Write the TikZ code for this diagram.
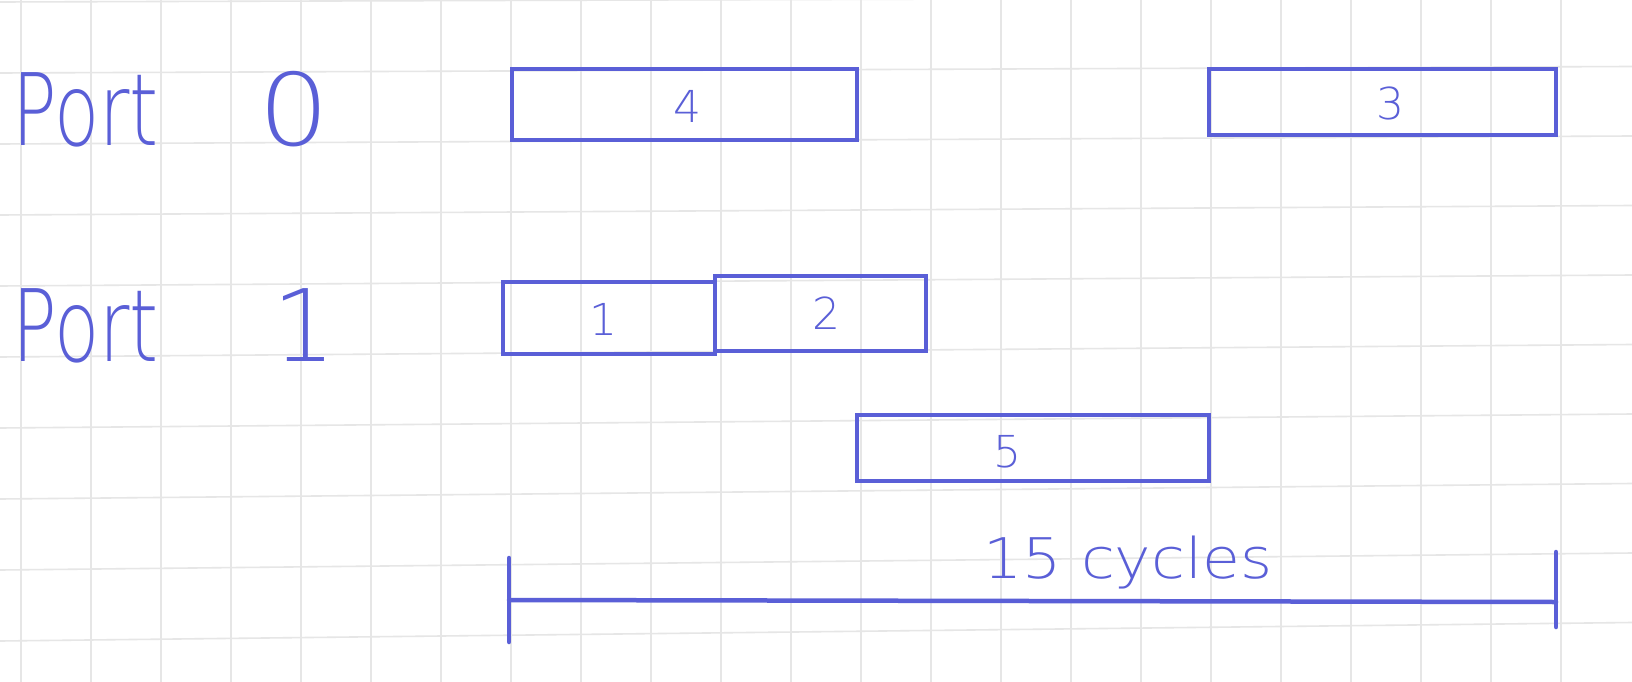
\documentclass[tikz,border=0pt]{standalone}
\usepackage{fontspec}
\usepackage{graphicx}
\newfontfamily\hand{DejaVuSans-ExtraLight.ttf}
\definecolor{ink}{RGB}{90,95,215}
\definecolor{gridc}{RGB}{230,230,230}
\tikzset{
  slot/.style 2 args={draw=ink, line width=4pt, minimum width=#1, minimum height=#2, inner sep=0pt, outer sep=0pt},
  slotlabel/.style={text=ink, font=\hand\fontsize{44}{44}\selectfont, inner sep=0pt},
  portlabel/.style={text=ink, font=\hand\fontsize{100}{100}\selectfont, inner sep=0pt, anchor=base west},
  ruler/.style={draw=ink, line width=4.5pt, line cap=round},
  gridline/.style={draw=gridc, line width=1.6pt}
}
\begin{document}
\begin{tikzpicture}[x=1pt,y=-1pt]
\useasboundingbox[fill=white] (0,0) rectangle (1632,682);
% squared paper
\foreach \k in {0,...,22} \draw[gridline] ({21+70*\k},0) -- ({21+70*\k},682);
\foreach \k in {0,...,9} \draw[gridline] (0,{2+71*\k}) -- (1632,{-3+69.5*\k});
% row labels
\node[portlabel] (p0) at (12,146) {\scalebox{0.74}[1]{Port}\hspace{100pt}\scalebox{1.12}[1]{0}};
\node[portlabel] (p1) at (12,361) {\scalebox{0.74}[1]{Port}\hspace{114pt}1};
% slots
\node[slot={345pt}{71pt}] (b4) at (684.5,104.5) {};
\node[slot={347pt}{66pt}] (b3) at (1382.5,102) {};
\node[slot={212pt}{72pt}] (b1) at (609,318) {};
\node[slot={211pt}{75pt}] (b2) at (820.5,313.5) {};
\node[slot={352pt}{66pt}] (b5) at (1033,448) {};
\node[slotlabel] (l4) at (687,106) {4};
\node[slotlabel] (l3) at (1390,103) {3};
\node[slotlabel] (l1) at (603,319) {1};
\node[slotlabel] (l2) at (826,313) {2};
\node[slotlabel] (l5) at (1007,452) {5};
% ruler
\coordinate (rl) at (509,600);
\coordinate (rr) at (1556,602);
\coordinate (rlt) at (509,558);
\coordinate (rlb) at (509,642);
\coordinate (rrt) at (1556,552);
\coordinate (rrb) at (1556,627);
\draw[ruler] (rl) -- (rr);
\draw[ruler] (rlt) -- (rlb);
\draw[ruler] (rrt) -- (rrb);
\node[text=ink, font=\hand\fontsize{56}{56}\selectfont, inner sep=0pt, anchor=base west] (cyc) at (983,578) {\scalebox{1.1}[1]{15 cycles}};
\end{tikzpicture}
\end{document}
